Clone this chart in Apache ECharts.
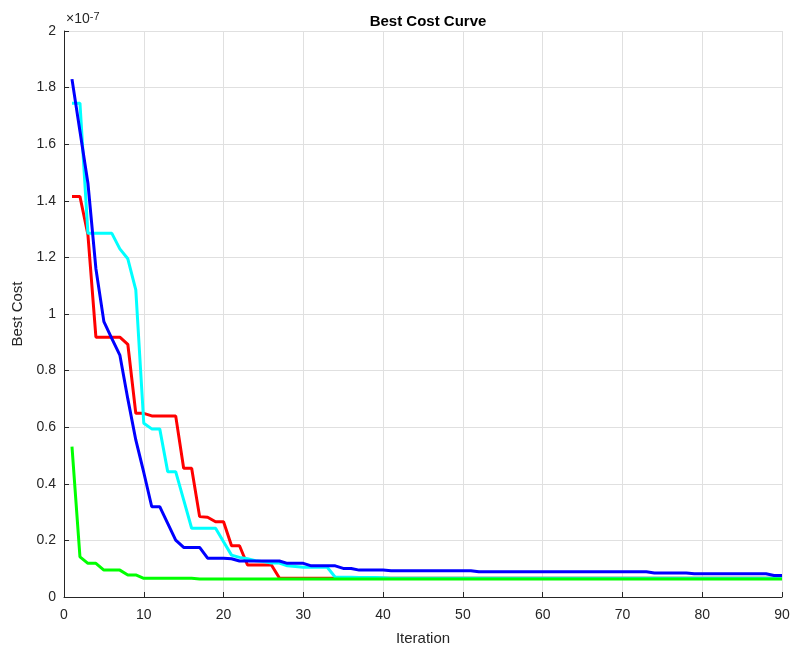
<!DOCTYPE html>
<html>
<head>
<meta charset="utf-8">
<script src="https://cdn.jsdelivr.net/npm/echarts@6/dist/echarts.min.js"></script>
<style>html,body{margin:0;padding:0;background:#fff}#c{width:793px;height:651px}</style>
</head>
<body>
<div id="c"></div>
<script>
// Values are in units of 1e-7 (axis exponent shown as ×10^-7)
var iterations = [1,2,3,4,5,6,7,8,9,10,11,12,13,14,15,16,17,18,19,20,21,22,23,24,25,26,27,28,29,30,31,32,33,34,35,36,37,38,39,40,41,42,43,44,45,46,47,48,49,50,51,52,53,54,55,56,57,58,59,60,61,62,63,64,65,66,67,68,69,70,71,72,73,74,75,76,77,78,79,80,81,82,83,84,85,86,87,88,89,90];
var redCost = [1.415,1.415,1.28,0.918,0.918,0.918,0.918,0.893,0.649,0.649,
0.64,0.64,0.64,0.64,0.455,0.455,0.284,0.282,0.266,0.266,
0.181,0.181,0.113,0.113,0.113,0.113,0.067,0.066,0.066,0.066,
0.066,0.066,0.066,0.066,0.066,0.066,0.066,0.066,0.066,0.066,
0.066,0.066,0.066,0.066,0.066,0.066,0.066,0.066,0.066,0.066,
0.066,0.066,0.066,0.066,0.066,0.066,0.066,0.066,0.066,0.066,
0.066,0.066,0.066,0.066,0.066,0.066,0.066,0.066,0.066,0.066,
0.066,0.066,0.066,0.066,0.066,0.066,0.066,0.066,0.066,0.066,
0.066,0.066,0.066,0.066,0.066,0.066,0.066,0.066,0.066,0.066];
var cyanCost = [1.745,1.745,1.285,1.285,1.285,1.285,1.23,1.195,1.085,0.614,
0.594,0.594,0.443,0.443,0.343,0.243,0.243,0.243,0.243,0.195,
0.148,0.14,0.135,0.128,0.125,0.12,0.12,0.11,0.108,0.105,
0.105,0.105,0.105,0.07,0.07,0.07,0.069,0.069,0.069,0.068,
0.066,0.066,0.066,0.066,0.066,0.066,0.066,0.066,0.066,0.066,
0.066,0.066,0.066,0.066,0.066,0.066,0.066,0.066,0.066,0.066,
0.066,0.066,0.066,0.066,0.066,0.066,0.066,0.066,0.066,0.066,
0.066,0.066,0.066,0.066,0.066,0.066,0.066,0.066,0.066,0.066,
0.066,0.066,0.066,0.066,0.066,0.066,0.066,0.066,0.066,0.066];
var blueCost = [1.83,1.646,1.462,1.16,0.973,0.913,0.855,0.70,0.555,0.44,
0.319,0.319,0.26,0.201,0.175,0.175,0.175,0.137,0.137,0.137,
0.135,0.127,0.127,0.127,0.127,0.127,0.127,0.119,0.119,0.119,
0.11,0.11,0.11,0.11,0.101,0.101,0.095,0.095,0.095,0.095,
0.093,0.093,0.093,0.093,0.093,0.093,0.093,0.093,0.093,0.093,
0.093,0.089,0.089,0.089,0.089,0.089,0.089,0.089,0.089,0.089,
0.089,0.089,0.089,0.089,0.089,0.089,0.089,0.089,0.089,0.089,
0.089,0.089,0.089,0.085,0.085,0.085,0.085,0.085,0.082,0.082,
0.082,0.082,0.082,0.082,0.082,0.082,0.082,0.082,0.076,0.076];
var greenCost = [0.531,0.142,0.119,0.119,0.095,0.095,0.095,0.078,0.078,0.066,
0.066,0.066,0.066,0.066,0.066,0.066,0.064,0.064,0.064,0.064,
0.064,0.064,0.064,0.064,0.064,0.064,0.064,0.064,0.064,0.064,
0.064,0.064,0.064,0.064,0.064,0.064,0.064,0.064,0.064,0.064,
0.064,0.064,0.064,0.064,0.064,0.064,0.064,0.064,0.064,0.064,
0.064,0.064,0.064,0.064,0.064,0.064,0.064,0.064,0.064,0.064,
0.064,0.064,0.064,0.064,0.064,0.064,0.064,0.064,0.064,0.064,
0.064,0.064,0.064,0.064,0.064,0.064,0.064,0.064,0.064,0.064,
0.064,0.064,0.064,0.064,0.064,0.064,0.064,0.064,0.064,0.064];

function pairs(ys){ return iterations.map(function(x,i){ return [x, ys[i]]; }); }
function line(name, color, ys){
  return { name: name, type: 'line', data: pairs(ys), showSymbol: false, symbol: 'none',
    lineStyle: { color: color, width: 3 }, itemStyle: { color: color }, animation: false };
}
var chart = echarts.init(document.getElementById('c'), null, { renderer: 'canvas' });
var FF = 'Liberation Sans, Arial, sans-serif';
var axisFont = { color: '#262626', fontSize: 14, fontFamily: FF };
chart.setOption({
  backgroundColor: '#fff',
  animation: false,
  title: { text: 'Best Cost Curve', left: 423, top: 9, textAlign: 'center',
    textStyle: { fontSize: 15, fontWeight: 'bold', color: '#000', fontFamily: FF } },
  grid: { left: 64, right: 11, top: 31, bottom: 54, containLabel: false },
  xAxis: { type: 'value', min: 0, max: 90, interval: 10,
    name: 'Iteration', nameLocation: 'middle', nameGap: 34,
    nameTextStyle: { color: '#262626', fontSize: 15, fontFamily: FF },
    axisLine: { show: true, onZero: false, lineStyle: { color: '#262626', width: 1 } },
    axisTick: { show: true, inside: true, length: 5, lineStyle: { color: '#262626' } },
    axisLabel: Object.assign({ margin: 11 }, axisFont),
    splitLine: { show: true, lineStyle: { color: '#e0e0e0', width: 1 } } },
  yAxis: { type: 'value', min: 0, max: 2, interval: 0.2,
    name: 'Best Cost', nameLocation: 'middle', nameGap: 37, nameRotate: 90,
    nameTextStyle: { color: '#262626', fontSize: 15, fontFamily: FF },
    axisLine: { show: true, lineStyle: { color: '#262626', width: 1 } },
    axisTick: { show: true, inside: true, length: 5, lineStyle: { color: '#262626' } },
    axisLabel: Object.assign({ margin: 8, formatter: function(v){ return String(Math.round(v*10)/10); } }, axisFont),
    splitLine: { show: true, lineStyle: { color: '#e0e0e0', width: 1 } } },
  graphic: [{ type: 'text', left: 66, top: 11,
    style: { text: '×10{s|-7}', fill: '#262626', font: '14px Liberation Sans, Arial, sans-serif',
      rich: { s: { fontSize: 11, verticalAlign: 'top', padding: [0,0,6,0], fill: '#262626' } } } }],
  series: [
    line('Red', '#ff0000', redCost),
    line('Cyan', '#00ffff', cyanCost),
    line('Blue', '#0000ff', blueCost),
    line('Green', '#00ff00', greenCost)
  ]
});
</script>
</body>
</html>
